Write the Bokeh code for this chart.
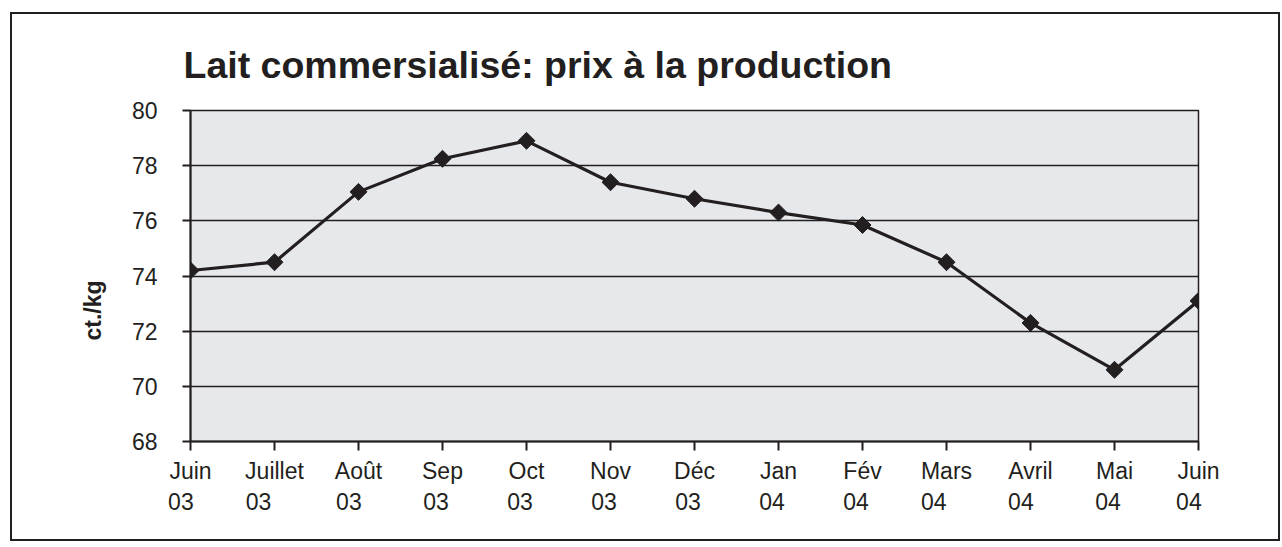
from bokeh.plotting import figure
from bokeh.models import FixedTicker, Range1d, Title
from bokeh.embed import file_html
from bokeh.resources import INLINE
import numpy as np

# ---- data ----
months = ["Juin", "Juillet", "Août", "Sep", "Oct", "Nov", "Déc", "Jan", "Fév", "Mars", "Avril", "Mai", "Juin"]
years = ["03", "03", "03", "03", "03", "03", "03", "04", "04", "04", "04", "04", "04"]
prices = [74.2, 74.5, 77.05, 78.25, 78.9, 77.4, 76.8, 76.3, 75.85, 74.5, 72.3, 70.6, 73.1]
y_ticks = [68, 70, 72, 74, 76, 78, 80]
title_text = "Lait commersialisé: prix à la production"
y_label = "ct./kg"

INK = "#231F20"
FONT = "Liberation Sans"

# approximate advance widths (em) of Liberation Sans, used to left-align the two label lines
W = {"J": .5, "u": .556, "i": .222, "n": .556, "l": .222, "e": .556, "t": .278, "A": .667,
     "o": .556, "û": .556, "S": .667, "p": .556, "O": .778, "c": .5, "N": .722, "v": .5,
     "D": .722, "é": .556, "a": .556, "F": .611, "M": .833, "r": .333, "s": .5, "0": .556,
     "3": .556, "4": .556}


def width(s):
    return sum(W.get(ch, .556) for ch in s)


def two_line(m, y):
    pad = int(round((width(m) - width(y)) / 0.278))
    return m + "\n" + y + "\u00a0" * max(pad, 0)


xs = list(range(len(months)))

p = figure(width=1266, height=525, output_backend="svg", toolbar_location=None,
           x_range=Range1d(0, len(months) - 1), y_range=Range1d(y_ticks[0], y_ticks[-1]),
           min_border_left=178, min_border_right=80, min_border_top=96, min_border_bottom=98)

p.styles = {"margin": "14px 0px 0px 12px", "outline": "2px solid " + INK, "outline-offset": "0px"}
p.background_fill_color = "#E7E8EC"
p.border_fill_color = "white"
p.outline_line_color = INK
p.outline_line_width = 1.5

p.title.text = title_text
p.title.text_font = FONT
p.title.text_font_size = "37.5px"
p.title.text_font_style = "bold"
p.title.text_color = INK
p.title.align = "left"
p.title.offset = -7
p.title.standoff = 50

# y axis
ya = p.yaxis[0]
ya.ticker = FixedTicker(ticks=y_ticks)
ya.major_label_text_font = FONT
ya.major_label_text_font_size = "23px"
ya.major_label_text_color = INK
ya.major_label_standoff = 25
ya.axis_line_color = INK
ya.axis_line_width = 2
ya.major_tick_line_color = INK
ya.major_tick_line_width = 2
ya.major_tick_out = 8
ya.major_tick_in = 0
ya.minor_tick_line_color = None

# y axis title, placed as a side title so it can sit below the frame centre like the original
p.add_layout(Title(text=y_label, align="left", offset=101, standoff=46,
                   text_font=FONT, text_font_size="23px", text_font_style="bold",
                   text_color=INK), "left")

# x axis
xa = p.xaxis[0]
xa.ticker = FixedTicker(ticks=xs)
xa.major_label_overrides = {i: two_line(m, y) for i, (m, y) in enumerate(zip(months, years))}
xa.major_label_text_font = FONT
xa.major_label_text_font_size = "23px"
xa.major_label_text_color = INK
xa.major_label_text_line_height = 1.2
xa.major_label_standoff = 7
xa.axis_line_color = INK
xa.axis_line_width = 2
xa.major_tick_line_color = INK
xa.major_tick_line_width = 2
xa.major_tick_out = 9
xa.major_tick_in = 0
xa.minor_tick_line_color = None

p.xgrid.grid_line_color = None
p.ygrid.ticker = FixedTicker(ticks=y_ticks)
p.ygrid.grid_line_color = INK
p.ygrid.grid_line_width = 1.5

p.line(xs, prices, line_color=INK, line_width=3.2)
p.scatter(xs, prices, marker="square", size=12, angle=np.pi / 4,
          fill_color=INK, line_color=INK)

open("out.html", "w").write(file_html(p, INLINE))
